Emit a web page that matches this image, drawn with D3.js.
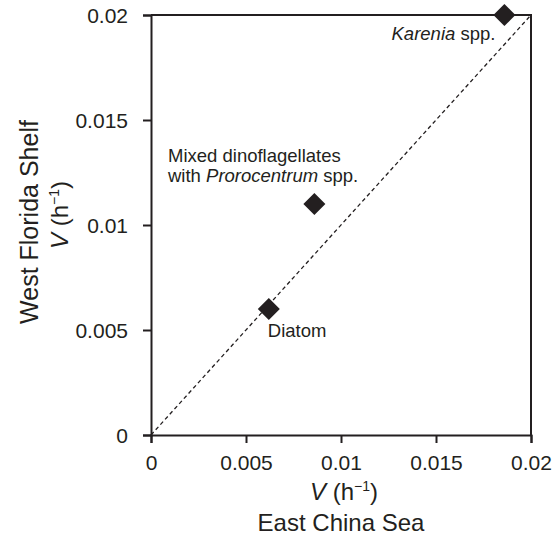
<!DOCTYPE html>
<html>
<head>
<meta charset="utf-8">
<script src="https://cdn.jsdelivr.net/npm/d3@7"></script>
<style>
  body { margin: 0; background: #fff; }
  svg { font-family: "Liberation Sans", Arial, sans-serif; }
</style>
</head>
<body>
<svg id="chart"></svg>
<script>
// data
const groups = ["Diatom", "Mixed dinoflagellates", "Karenia spp."];
const eastChinaSea = [0.0062, 0.0086, 0.0186];
const westFloridaShelf = [0.006, 0.011, 0.02];
const tickValues = [0, 0.005, 0.01, 0.015, 0.02];
const tickLabels = ["0", "0.005", "0.01", "0.015", "0.02"];

const width = 555;
const height = 536;
const margin = { top: 15, right: 24, bottom: 101, left: 151 };
const ink = "#231f20";

const svg = d3.select("#chart")
  .attr("width", width)
  .attr("height", height);

const x = d3.scaleLinear().domain([0, 0.02]).range([margin.left, width - margin.right]);
const y = d3.scaleLinear().domain([0, 0.02]).range([height - margin.bottom, margin.top]);

const fmt = (d, i) => tickLabels[i];

// frame (top + right)
svg.append("path")
  .attr("d", `M${x(0)},${y(0.02)}H${x(0.02)}V${y(0)}`)
  .attr("fill", "none")
  .attr("stroke", ink)
  .attr("stroke-width", 2);

const xAxis = svg.append("g")
  .attr("transform", `translate(0,${y(0)})`)
  .call(d3.axisBottom(x).tickValues(tickValues).tickFormat(fmt).tickSizeOuter(0).tickSize(8).tickPadding(12));

const yAxis = svg.append("g")
  .attr("transform", `translate(${x(0)},0)`)
  .call(d3.axisLeft(y).tickValues(tickValues).tickFormat(fmt).tickSizeOuter(0).tickSize(8).tickPadding(15));

[xAxis, yAxis].forEach(a => {
  a.select(".domain").attr("stroke", ink).attr("stroke-width", 2);
  a.selectAll(".tick line").attr("stroke", ink).attr("stroke-width", 2);
  a.selectAll(".tick text")
    .attr("fill", ink)
    .style("font-size", "21px")
    .style("font-family", "'Liberation Sans', Arial, sans-serif");
});
yAxis.selectAll(".tick text").attr("dy", "0.36em");

// 1:1 line
svg.append("line")
  .attr("x1", x(0)).attr("y1", y(0))
  .attr("x2", x(0.02)).attr("y2", y(0.02))
  .attr("stroke", ink)
  .attr("stroke-width", 1.3)
  .attr("stroke-dasharray", "4,3");

// points
const diamond = "M0,-11L11,0L0,11L-11,0Z";
svg.append("g").selectAll("path")
  .data(groups)
  .join("path")
  .attr("d", diamond)
  .attr("transform", (d, i) => `translate(${x(eastChinaSea[i])},${y(westFloridaShelf[i])})`)
  .attr("fill", ink);

// point labels
const lab = svg.append("g").attr("fill", ink).style("font-size", "18.5px");

const t1 = lab.append("text")
  .attr("x", x(eastChinaSea[2]) - 9)
  .attr("y", y(westFloridaShelf[2]) + 25)
  .attr("text-anchor", "end");
t1.append("tspan").attr("font-style", "italic").text("Karenia");
t1.append("tspan").text(" spp.");

lab.append("text")
  .attr("x", x(0) + 17)
  .attr("y", y(westFloridaShelf[1]) - 42)
  .text("Mixed dinoflagellates");
const t2 = lab.append("text")
  .attr("x", x(0) + 17)
  .attr("y", y(westFloridaShelf[1]) - 22);
t2.append("tspan").text("with ");
t2.append("tspan").attr("font-style", "italic").text("Prorocentrum");
t2.append("tspan").text(" spp.");

lab.append("text")
  .attr("x", x(eastChinaSea[0]) - 1)
  .attr("y", y(westFloridaShelf[0]) + 28)
  .text("Diatom");

// axis titles
function vTitle(sel) {
  sel.append("tspan").attr("font-style", "italic").text("V");
  sel.append("tspan").text(" (h");
  sel.append("tspan").attr("dy", "-9").style("font-size", "14px").text("\u22121");
  sel.append("tspan").attr("dy", "9").text(")");
}

const xt = svg.append("g").attr("fill", ink).style("font-size", "24px").attr("text-anchor", "middle");
vTitle(xt.append("text").attr("x", (x(0) + x(0.02)) / 2 + 3).attr("y", 500));
xt.append("text").attr("x", (x(0) + x(0.02)) / 2).attr("y", 531).text("East China Sea");

const yt = svg.append("g").attr("fill", ink).style("font-size", "25px").attr("text-anchor", "middle");
yt.append("text").attr("transform", "translate(38,222) rotate(-90)").text("West Florida Shelf");
vTitle(yt.append("text").attr("transform", "translate(68,215) rotate(-90)").style("font-size", "24px"));
</script>
</body>
</html>
